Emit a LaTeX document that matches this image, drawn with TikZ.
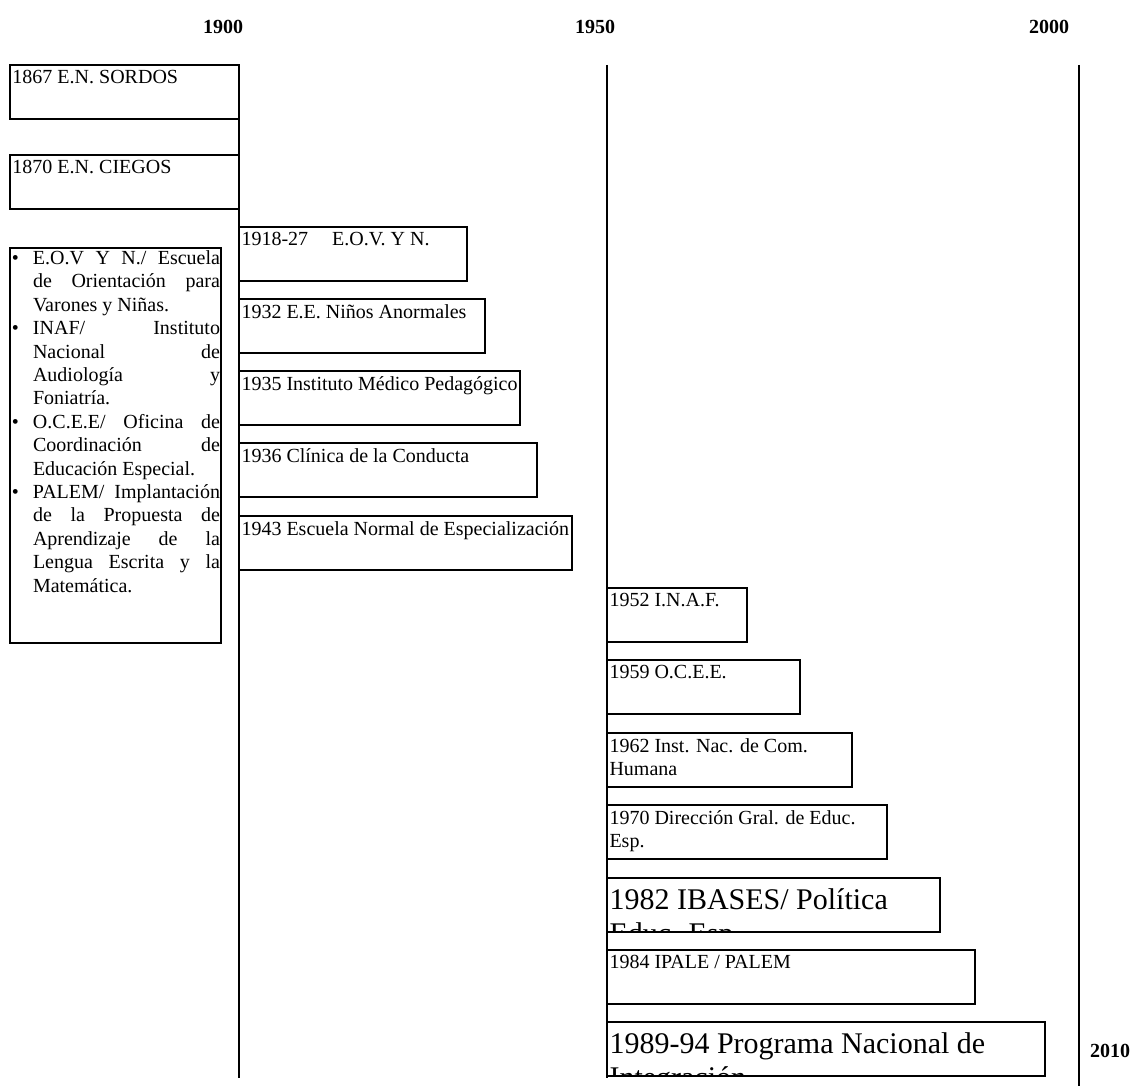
\documentclass[tikz,border=0pt]{standalone}
\usepackage{fontspec}
\setmainfont{Liberation Serif}
\newcommand\evbox[6]{%
  \node[evbox, minimum width=#4pt,
        path picture={\node[#5] at (path picture bounding box.north west) {#6};}]
        (#1) at (#2,#3) {};}
\newcommand\jl[1]{\makebox[187pt][s]{#1}}
\newcommand\bul{\makebox[21pt][l]{\textbullet}}
\newcommand\ind{\hspace*{21pt}}
\begin{document}
\begin{tikzpicture}[x=1pt,y=-1pt,
  evbox/.style={draw, line width=1.6pt, anchor=north west, inner sep=0pt,
                outer sep=0pt, minimum height=54pt},
  plain/.style={draw=none, minimum width=0pt, minimum height=0pt,
                anchor=north west, inner sep=0pt, outer sep=0pt, align=left},
  txt/.style={plain, shift={(2.5,5.5)}, font=\fontsize{20}{23}\selectfont},
  bigtxt/.style={plain, shift={(2.5,10.5)}, font=\fontsize{30}{34.5}\selectfont},
  listtxt/.style={plain, shift={(2,2.6)}, font=\fontsize{20}{23.4}\selectfont},
  yearlbl/.style={anchor=base, inner sep=0pt,
                  font=\fontsize{20}{23}\selectfont\bfseries},
  tline/.style={line width=1.6pt}]
\useasboundingbox (0,0) rectangle (1139,1089);

% year labels
\node[yearlbl] (y1900) at (223,34) {1900};
\node[yearlbl] (y1950) at (595,34) {1950};
\node[yearlbl] (y2000) at (1049,34) {2000};
\node[yearlbl] (y2010) at (1110,1057) {2010};

% timelines
\coordinate (t1900a) at (239,65);
\coordinate (t1900b) at (239,1078);
\coordinate (t1950a) at (607,65);
\coordinate (t1950b) at (607,1078);
\coordinate (t2000a) at (1079,65);
\coordinate (t2000b) at (1079,1086);
\draw[tline] (t1900a) -- (t1900b);
\draw[tline] (t1950a) -- (t1950b);
\draw[tline] (t2000a) -- (t2000b);

% before 1900
\evbox{b1867}{10}{65}{229}{txt}{1867 E.N. SORDOS}
\evbox{b1870}{10}{155}{229}{txt}{1870 E.N. CIEGOS}

% list box
\node[evbox, minimum width=211pt, minimum height=395pt,
  path picture={\node[listtxt] at (path picture bounding box.north west) {%
    \bul\jl{E.O.V Y N./ Escuela}\\
    \ind\jl{de Orientación para}\\
    \ind Varones y Niñas.\\
    \bul\jl{INAF/ Instituto}\\
    \ind\jl{Nacional de}\\
    \ind\jl{Audiología y}\\
    \ind Foniatría.\\
    \bul\jl{O.C.E.E/ Oficina de}\\
    \ind\jl{Coordinación de}\\
    \ind Educación Especial.\\
    \bul\jl{PALEM/ Implantación}\\
    \ind\jl{de la Propuesta de}\\
    \ind\jl{Aprendizaje de la}\\
    \ind\jl{Lengua Escrita y la}\\
    \ind Matemática.};}] (blist) at (10,248) {};

% 1900-1950
\evbox{b1918}{239}{227}{228}{txt}{1918-27\hspace*{24pt}E.O.V. Y N.}
\evbox{b1932}{239}{299}{246}{txt}{1932 E.E. Niños Anormales}
\evbox{b1935}{239}{371}{281}{txt}{1935 Instituto Médico Pedagógico}
\evbox{b1936}{239}{443}{298}{txt}{1936 Clínica de la Conducta}
\evbox{b1943}{239}{516}{333}{txt}{1943 Escuela Normal de Especialización}

% 1950-2000
\evbox{b1952}{607}{588}{140}{txt}{1952 I.N.A.F.}
\evbox{b1959}{607}{660}{193}{txt}{1959 O.C.E.E.}
\evbox{b1962}{607}{733}{245}{txt}{1962 Inst. Nac. de Com.\\Humana}
\evbox{b1970}{607}{805}{280}{txt}{1970 Dirección Gral. de Educ.\\Esp.}
\evbox{b1982}{607}{878}{333}{bigtxt}{1982 IBASES/ Política\\Educ. Esp.}
\evbox{b1984}{607}{950}{368}{txt}{1984 IPALE / PALEM}
\evbox{b1989}{607}{1022}{438}{bigtxt}{1989-94 Programa Nacional de\\Integración}
\end{tikzpicture}
\end{document}
